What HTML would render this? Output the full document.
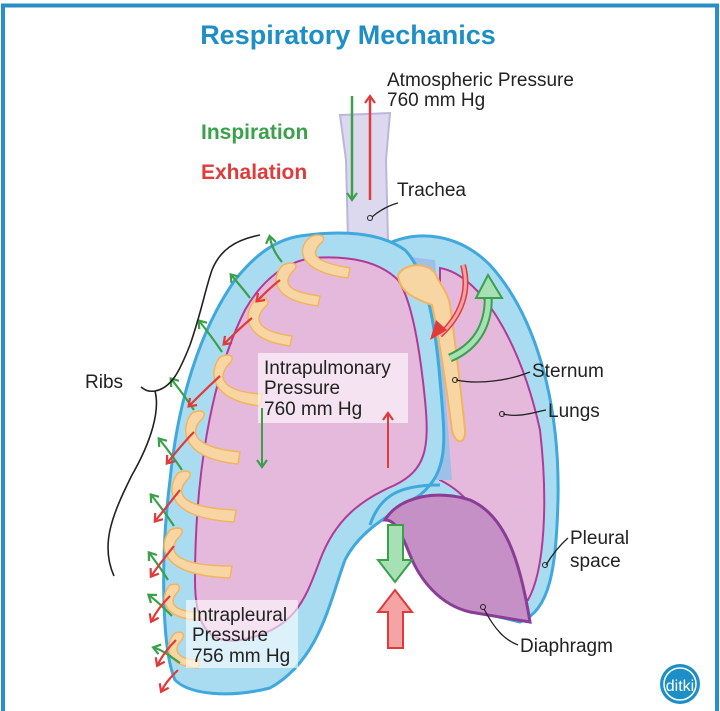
<!DOCTYPE html>
<html><head><style>
html,body{margin:0;padding:0;background:#fff}
svg{display:block}
text{font-family:"Liberation Sans",sans-serif}
.h{font-family:"Liberation Sans Narrow","Liberation Sans",sans-serif;font-size:19px;fill:#222}
</style></head><body>
<svg width="720" height="711" viewBox="0 0 720 711" xmlns="http://www.w3.org/2000/svg">
<defs>
<marker id="ag" markerWidth="12" markerHeight="12" refX="6" refY="6" orient="auto" markerUnits="userSpaceOnUse"><path d="M1,1 L8,6 L1,11" fill="none" stroke="#3aa04a" stroke-width="2.2"/></marker>
<marker id="ar" markerWidth="12" markerHeight="12" refX="6" refY="6" orient="auto" markerUnits="userSpaceOnUse"><path d="M1,1 L8,6 L1,11" fill="none" stroke="#e03a3a" stroke-width="2.2"/></marker>
</defs>
<rect x="0" y="0" width="720" height="711" fill="#fff"/>
<path d="M3,711 L3,5.5 L717,5.5 L717,711" fill="none" stroke="#2a8fc4" stroke-width="4"/>
<text x="348" y="44" text-anchor="middle" font-size="27" font-weight="bold" fill="#1e8fc6">Respiratory Mechanics</text>

<path d="M340,115 L390,113 L386,160 L388,240 L348,240 L346,160 Z" fill="#dcd8ee" stroke="#bbb6dd" stroke-width="2"/>

<path d="M385,245 C420,228 460,235 490,265 C535,315 560,400 558,500 C556,570 550,610 520,622 L470,610 L420,505 L400,470 Z" fill="#a9dcf1" stroke="#3fa8dc" stroke-width="3"/>
<path d="M440,268 C480,275 520,340 540,430 C548,500 545,570 528,600 L500,590 C495,540 480,500 440,480 Z" fill="#e5b9db" stroke="#b03b97" stroke-width="2"/>
<path d="M395,255 L435,260 L452,480 L420,480 Z" fill="#9ec0e8"/>

<path d="M300,236 C340,230 380,232 405,250 C425,270 435,320 440,380 C445,440 450,470 420,495 C390,515 360,530 345,560 C330,600 320,660 270,688 C230,698 190,695 175,680 C162,650 160,560 170,480 C178,400 200,330 235,280 C255,255 275,240 300,236 Z" fill="#a9dcf1" stroke="#3fa8dc" stroke-width="3"/>
<path d="M312,258 C350,255 380,262 398,280 C412,300 420,350 425,400 C430,450 425,470 395,485 C360,500 335,520 320,560 C305,600 295,630 240,640 C205,645 195,620 195,580 C195,480 210,380 245,310 C262,280 285,262 312,258 Z" fill="#e5b9db" stroke="#b03b97" stroke-width="2"/>

<path d="M385,520 C400,495 440,490 470,500 C505,515 520,560 530,622 L470,612 C440,605 420,580 410,555 C400,530 395,520 385,520 Z" fill="#c590c6" stroke="#8a3d94" stroke-width="3"/>
<path d="M370,525 C380,495 400,485 440,485" fill="none" stroke="#3fa8dc" stroke-width="3"/>

<path d="M398,275 C405,262 430,262 436,275 C440,285 448,292 450,305 C455,340 462,400 465,430 C466,445 455,445 452,430 C448,400 440,340 432,305 C420,300 400,295 398,275 Z" fill="#f8d6a4" stroke="#f0b560" stroke-width="2"/>

<g fill="#f8d6a4" stroke="#f0b560" stroke-width="1.5">
<path d="M310,237 C322,232 328,238 320,244 C310,255 315,262 350,268 L348,278 C300,272 295,250 310,237 Z"/>
<path d="M283,265 C295,260 300,266 292,272 C282,285 290,292 320,296 L318,306 C272,300 270,278 283,265 Z"/>
<path d="M255,300 C268,295 272,302 264,308 C252,322 262,332 292,336 L290,346 C244,340 242,315 255,300 Z"/>
<path d="M220,357 C232,352 236,358 228,365 C216,380 226,392 262,394 L260,406 C210,400 208,372 220,357 Z"/>
<path d="M192,413 C204,408 208,414 200,421 C188,436 200,448 240,452 L238,464 C180,458 180,428 192,413 Z"/>
<path d="M178,473 C190,468 194,474 186,481 C174,496 186,508 236,510 L234,522 C166,518 166,488 178,473 Z"/>
<path d="M170,530 C182,525 186,531 178,538 C166,553 178,566 232,566 L230,578 C158,575 158,545 170,530 Z"/>
<path d="M170,585 C180,582 182,588 176,594 C168,604 176,612 200,612 L198,620 C160,618 160,596 170,585 Z"/>
<path d="M175,633 C184,630 186,636 180,642 C172,652 180,660 200,660 L198,668 C164,666 164,644 175,633 Z"/>
</g>

<rect x="258" y="353" width="150" height="70" fill="#fff" opacity="0.6"/>
<rect x="186" y="600" width="112" height="68" fill="#fff" opacity="0.6"/>
<text class="h" x="264" y="374">Intrapulmonary</text>
<text class="h" x="264" y="394">Pressure</text>
<text class="h" x="264" y="415">760 mm Hg</text>
<text class="h" x="192" y="621">Intrapleural</text>
<text class="h" x="192" y="641">Pressure</text>
<text class="h" x="192" y="662">756 mm Hg</text>

<line x1="262" y1="408" x2="262" y2="465" stroke="#3aa04a" stroke-width="2" marker-end="url(#ag)"/>
<line x1="388" y1="468" x2="388" y2="415" stroke="#e03a3a" stroke-width="2" marker-end="url(#ar)"/>

<line x1="352" y1="96" x2="352" y2="198" stroke="#3aa04a" stroke-width="2.5" marker-end="url(#ag)"/>
<line x1="370" y1="200" x2="370" y2="98" stroke="#e03a3a" stroke-width="2.5" marker-end="url(#ar)"/>

<path d="M388,525 L403,525 L403,560 L412,560 L395,582 L378,560 L388,560 Z" fill="#a6e0b4" stroke="#3aa04a" stroke-width="2"/>
<path d="M388,648 L403,648 L403,612 L412,612 L395,590 L378,612 L388,612 Z" fill="#f4a4a4" stroke="#e03a3a" stroke-width="2"/>

<path d="M463,265 C470,290 462,315 440,335" fill="none" stroke="#e03a3a" stroke-width="6"/>
<path d="M463,265 C470,290 462,315 440,335" fill="none" stroke="#f4a4a4" stroke-width="3"/>
<path d="M430,340 L447,330 L436,320 Z" fill="#e03a3a"/>
<path d="M450,358 C480,345 490,320 488,292" fill="none" stroke="#3aa04a" stroke-width="9"/>
<path d="M450,358 C480,345 490,320 488,292" fill="none" stroke="#a6e0b4" stroke-width="5"/>
<path d="M476,298 L488,275 L502,298 Z" fill="#a6e0b4" stroke="#3aa04a" stroke-width="2"/>

<g stroke-width="2.2" fill="none">
<g stroke="#3aa04a">
<path d="M282,262 C276,255 272,248 270,238" marker-end="url(#ag)"/>
<path d="M250,298 C244,290 238,283 232,276" marker-end="url(#ag)"/>
<path d="M222,352 C214,340 208,332 200,322" marker-end="url(#ag)"/>
<path d="M194,410 C186,398 180,390 172,380" marker-end="url(#ag)"/>
<path d="M182,470 C174,458 168,450 160,440" marker-end="url(#ag)"/>
<path d="M174,526 C166,514 160,506 152,496" marker-end="url(#ag)"/>
<path d="M168,580 C162,570 156,562 150,554" marker-end="url(#ag)"/>
<path d="M172,616 C164,608 158,602 150,596" marker-end="url(#ag)"/>
<path d="M180,663 C170,656 162,650 155,648" marker-end="url(#ag)"/>
</g>
<g stroke="#e03a3a">
<path d="M280,280 C272,286 266,292 258,300" marker-end="url(#ar)"/>
<path d="M252,318 C242,326 234,334 225,343" marker-end="url(#ar)"/>
<path d="M220,376 C210,385 200,395 190,405" marker-end="url(#ar)"/>
<path d="M194,432 C184,442 176,452 168,462" marker-end="url(#ar)"/>
<path d="M180,490 C172,500 164,510 156,520" marker-end="url(#ar)"/>
<path d="M174,546 C166,556 158,566 152,575" marker-end="url(#ar)"/>
<path d="M170,596 C162,604 156,612 152,620" marker-end="url(#ar)"/>
<path d="M176,640 C168,648 162,656 158,664" marker-end="url(#ar)"/>
<path d="M178,670 C172,676 166,682 162,690" marker-end="url(#ar)"/>
</g>
</g>

<!-- ribs brace -->
<path d="M260,235 C235,240 220,250 212,270 C205,290 202,310 190,345 C180,370 172,388 155,391 C148,392 145,390 141,387 M155,391 C160,410 152,440 132,475 C112,515 100,545 114,576" fill="none" stroke="#222" stroke-width="1.6"/>

<text x="201" y="139" font-size="21" font-weight="bold" fill="#3aa04a">Inspiration</text>
<text x="201" y="179" font-size="21" font-weight="bold" fill="#e03a3a">Exhalation</text>
<text class="h" x="387" y="86">Atmospheric Pressure</text>
<text class="h" x="387" y="106">760 mm Hg</text>
<text class="h" x="397" y="196">Trachea</text>
<path d="M372,217 C380,210 390,205 398,203" fill="none" stroke="#222" stroke-width="1.3"/>
<circle cx="370" cy="218" r="2.5" fill="none" stroke="#222"/>
<text class="h" x="85" y="388">Ribs</text>
<text class="h" x="532" y="377">Sternum</text>
<path d="M456,380 C480,385 510,380 530,372" fill="none" stroke="#222" stroke-width="1.3"/>
<circle cx="455" cy="380" r="2.5" fill="none" stroke="#222"/>
<text class="h" x="548" y="417">Lungs</text>
<path d="M503,414 C520,418 535,412 546,410" fill="none" stroke="#222" stroke-width="1.3"/>
<circle cx="502" cy="414" r="2.5" fill="none" stroke="#222"/>
<text class="h" x="570" y="544">Pleural</text>
<text class="h" x="570" y="567">space</text>
<path d="M546,565 C552,555 560,545 568,538" fill="none" stroke="#222" stroke-width="1.3"/>
<circle cx="545" cy="565" r="2.5" fill="none" stroke="#222"/>
<text class="h" x="520" y="652">Diaphragm</text>
<path d="M484,609 C495,630 505,640 518,645" fill="none" stroke="#222" stroke-width="1.3"/>
<circle cx="483" cy="607" r="2.5" fill="none" stroke="#222"/>

<circle cx="680" cy="684" r="20" fill="#1e8fc6"/>
<circle cx="680" cy="684" r="16" fill="none" stroke="#fff" stroke-width="1.5"/>
<text x="680" y="691" text-anchor="middle" font-size="16" fill="#fff">ditki</text>
</svg>
</body></html>
